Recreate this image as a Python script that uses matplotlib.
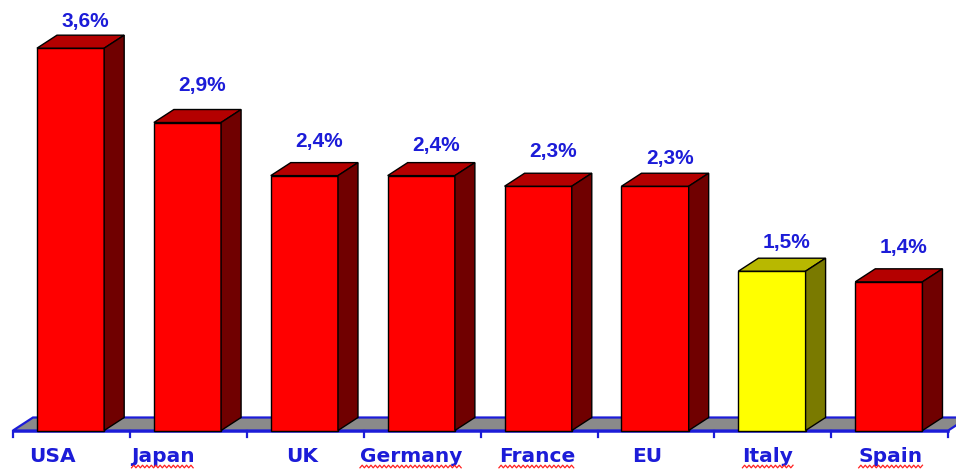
import matplotlib
matplotlib.use("Agg")
import matplotlib.pyplot as plt
from matplotlib.patches import Polygon

countries = ["USA", "Japan", "UK", "Germany", "France", "EU", "Italy", "Spain"]
values = [3.6, 2.9, 2.4, 2.4, 2.3, 2.3, 1.5, 1.4]
value_labels = ["3,6%", "2,9%", "2,4%", "2,4%", "2,3%", "2,3%", "1,5%", "1,4%"]
highlight = "Italy"
spellchecked = ["Japan", "Germany", "France", "Italy", "Spain"]

# layout nudges (pixels), as placed in the original slide
value_gap_px = [8, 19, 16, 12, 16, 9, 10, 16]
name_shift_px = [-19, -25, -3, -11, -2, -9, -5, 1]

W, H = 956, 470
fig = plt.figure(figsize=(W / 100, H / 100), dpi=100)
ax = fig.add_axes([0, 0, 1, 1])
px_x = 116.9   # pixels per category
px_y = 106.2   # pixels per percent
x0, y0 = 13, 430.5
ax.set_xlim(-x0 / px_x, (W - x0) / px_x)
ax.set_ylim(-(H - y0) / px_y, y0 / px_y)
ax.axis("off")

dx = 20 / px_x
dy = 13 / px_y
n = len(countries)
blue = "#1c1cd8"

# floor
floor = Polygon([(0, 0), (n, 0), (n + dx, dy), (dx, dy)], closed=True,
                facecolor="#8a8a8a", edgecolor=blue, lw=1.6, zorder=1)
ax.add_patch(floor)
for i in range(n + 1):
    ax.plot([i, i], [0, -6 / px_y], color=blue, lw=1.6, zorder=2)
ax.plot([0, n], [0, 0], color=blue, lw=1.8, zorder=2)

bl, bw = 0.205, 0.575
name_texts = []
for i, (c, v, lab) in enumerate(zip(countries, values, value_labels)):
    if c == highlight:
        front, top, side = "#ffff00", "#b8b800", "#7a7a00"
    else:
        front, top, side = "#ff0000", "#b40000", "#700000"
    L, R = i + bl, i + bl + bw
    ax.add_patch(Polygon([(L, 0), (R, 0), (R, v), (L, v)], closed=True,
                         facecolor=front, edgecolor="black", lw=1.0, zorder=3))
    ax.add_patch(Polygon([(L, v), (R, v), (R + dx, v + dy), (L + dx, v + dy)], closed=True,
                         facecolor=top, edgecolor="black", lw=1.0, zorder=3))
    ax.add_patch(Polygon([(R, 0), (R + dx, dy), (R + dx, v + dy), (R, v)], closed=True,
                         facecolor=side, edgecolor="black", lw=1.0, zorder=3))
    ax.text((L + R) / 2 + dx / 2 + 5 / px_x, v + dy + value_gap_px[i] / px_y, lab,
            ha="center", va="baseline", color=blue, fontsize=15, fontweight="bold",
            family="Liberation Sans", zorder=4)
    t = ax.text(i + 0.5 + name_shift_px[i] / px_x, -31 / px_y, c, ha="center", va="baseline",
                color=blue, fontsize=14.5, fontweight="bold", family="DejaVu Sans", zorder=4)
    name_texts.append((c, t))

# red spell-check squiggles under some labels
fig.canvas.draw()
inv = ax.transData.inverted()
for c, t in name_texts:
    if c not in spellchecked:
        continue
    bb = t.get_window_extent()
    xs, ys = [], []
    x = bb.x0
    k = 0
    while x <= bb.x1:
        xs.append(x)
        ys.append(3.5 + (1.3 if k % 2 else -1.3))
        x += 2.2
        k += 1
    pts = inv.transform(list(zip(xs, ys)))
    ax.plot(pts[:, 0], pts[:, 1], color="#ff2020", lw=0.9, zorder=5, clip_on=False)

fig.savefig("out.png", dpi=100, facecolor="white")
